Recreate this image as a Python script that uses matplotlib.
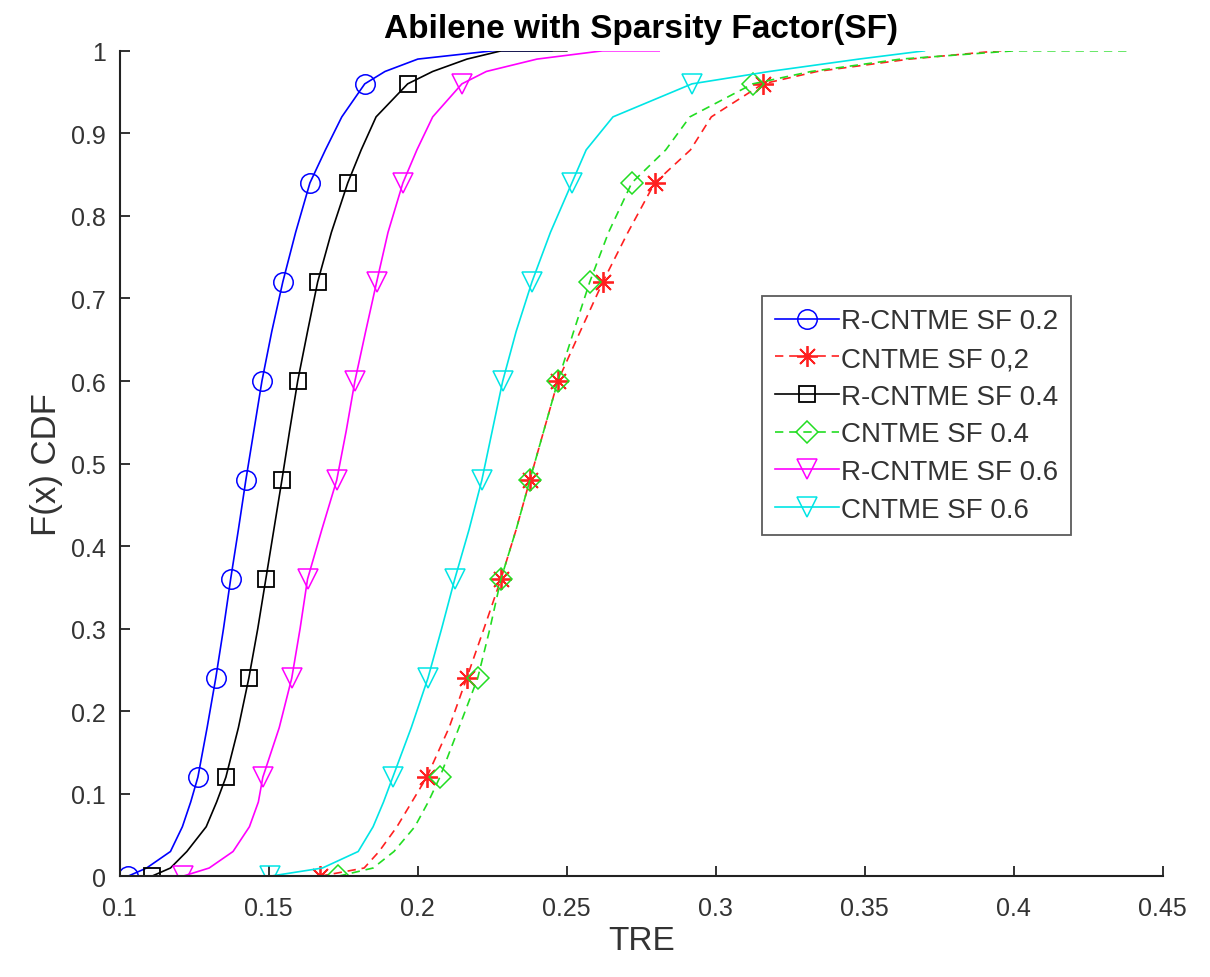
import matplotlib
matplotlib.use("Agg")
import matplotlib.pyplot as plt

plt.rcParams['font.family'] = ['Liberation Sans', 'DejaVu Sans']

# CDF levels (shared by all curves); markers sit on 0, 0.12, ..., 0.96
cdf = [0, 0.01, 0.03, 0.06, 0.09, 0.12, 0.18, 0.24, 0.30, 0.36, 0.42, 0.48,
       0.54, 0.60, 0.66, 0.72, 0.78, 0.84, 0.88, 0.92, 0.96, 0.975, 0.99, 1.0, 1.0]
mark_idx = [0, 5, 7, 9, 11, 13, 15, 17, 20]

rcntme_02 = [0.1027, 0.109, 0.117, 0.121, 0.1238, 0.1262, 0.1293, 0.1322, 0.1348, 0.1372,
             0.1398, 0.1423, 0.145, 0.1477, 0.151, 0.1547, 0.159, 0.1638, 0.169, 0.1745,
             0.1822, 0.189, 0.200, 0.225, 0.245]
cntme_02 = [0.1671, 0.182, 0.187, 0.193, 0.198, 0.203, 0.2105, 0.2164, 0.2222, 0.2279,
            0.233, 0.2376, 0.2423, 0.247, 0.2545, 0.2621, 0.2705, 0.2795, 0.2915, 0.2985,
            0.3158, 0.334, 0.365, 0.395, 0.399]
rcntme_04 = [0.1107, 0.117, 0.1225, 0.129, 0.1325, 0.1356, 0.1398, 0.1433, 0.1463, 0.149,
             0.1517, 0.1544, 0.157, 0.1597, 0.163, 0.1664, 0.171, 0.1765, 0.181, 0.186,
             0.1966, 0.205, 0.2165, 0.228, 0.250]
cntme_04 = [0.1732, 0.185, 0.192, 0.199, 0.2035, 0.2074, 0.2138, 0.2201, 0.2242, 0.2279,
            0.233, 0.2376, 0.2423, 0.247, 0.2523, 0.2577, 0.264, 0.2718, 0.2832, 0.2913,
            0.3124, 0.332, 0.362, 0.400, 0.438]
rcntme_06 = [0.1211, 0.130, 0.138, 0.1435, 0.1465, 0.148, 0.1535, 0.1577, 0.1605, 0.163,
             0.1678, 0.1728, 0.176, 0.1789, 0.1825, 0.1862, 0.190, 0.195, 0.1997, 0.205,
             0.2148, 0.223, 0.240, 0.262, 0.281]
cntme_06 = [0.1503, 0.168, 0.180, 0.185, 0.1885, 0.1916, 0.1978, 0.2034, 0.208, 0.2124,
            0.2172, 0.2215, 0.225, 0.2285, 0.233, 0.2383, 0.2445, 0.2517, 0.2565, 0.2655,
            0.292, 0.318, 0.348, 0.370, 0.370]

labels = ['R-CNTME SF 0.2', 'CNTME SF 0,2', 'R-CNTME SF 0.4',
          'CNTME SF 0.4', 'R-CNTME SF 0.6', 'CNTME SF 0.6']

fig = plt.figure(figsize=(12.1, 9.78), dpi=100)
ax = fig.add_axes([0.099, 0.103, 0.862, 0.844])

dash = (0, (5, 3.5))
asterisk = (8, 2, 0)  # matlab-style '*'
ax.plot(rcntme_02, cdf, color='#0000ff', lw=1.2, marker='o', ms=14, mfc='none',
        mew=1.1, markevery=mark_idx, label=labels[0])
ax.plot(cntme_02, cdf, color='#ff2020', lw=1.2, ls=dash, marker=asterisk, ms=15,
        mew=1.3, markevery=mark_idx, label=labels[1])
ax.plot(rcntme_04, cdf, color='black', lw=1.2, marker='s', ms=11, mfc='none',
        mew=1.3, markevery=mark_idx, label=labels[2])
ax.plot(cntme_04, cdf, color='#22dd22', lw=1.2, ls=dash, marker='D', ms=11, mfc='none',
        mew=1.1, markevery=mark_idx, label=labels[3])
ax.plot(rcntme_06, cdf, color='#ff00ff', lw=1.2, marker='v', ms=15, mfc='none',
        mew=1.1, markevery=mark_idx, label=labels[4])
ax.plot(cntme_06, cdf, color='#00e5e5', lw=1.2, marker='v', ms=15, mfc='none',
        mew=1.1, markevery=mark_idx, label=labels[5])

ax.set_xlim(0.1, 0.45)
ax.set_ylim(0, 1)
ax.set_xticks([0.1, 0.15, 0.2, 0.25, 0.3, 0.35, 0.4, 0.45])
ax.set_xticklabels(['0.1', '0.15', '0.2', '0.25', '0.3', '0.35', '0.4', '0.45'])
ax.set_yticks([i / 10 for i in range(11)])
ax.set_yticklabels(['0', '0.1', '0.2', '0.3', '0.4', '0.5', '0.6', '0.7', '0.8', '0.9', '1'])
ax.spines['top'].set_visible(False)
ax.spines['right'].set_visible(False)
for s in ['left', 'bottom']:
    ax.spines[s].set_linewidth(1.5)
    ax.spines[s].set_color('#222222')
ax.tick_params(direction='in', length=7, width=1.3, labelsize=18, colors='#222222',
               labelcolor='#333333')
ax.tick_params(axis='x', pad=14)
ax.tick_params(axis='y', pad=10)

ax.set_xlabel('TRE', fontsize=24, color='#333333', labelpad=4)
ax.set_ylabel('F(x) CDF', fontsize=25, color='#333333', labelpad=6)
ax.set_title('Abilene with Sparsity Factor(SF)', fontsize=24, fontweight='bold', pad=10)

leg = ax.legend(loc='upper left', bbox_to_anchor=(0.616, 0.703), fontsize=20,
                frameon=True, fancybox=False, handlelength=2.3, labelspacing=0.42,
                borderpad=0.45, handletextpad=0.1, borderaxespad=0)
leg.get_frame().set_edgecolor('#333333')
leg.get_frame().set_linewidth(1.3)
for t in leg.get_texts():
    t.set_color('#333333')

fig.savefig('out.png', dpi=100)
